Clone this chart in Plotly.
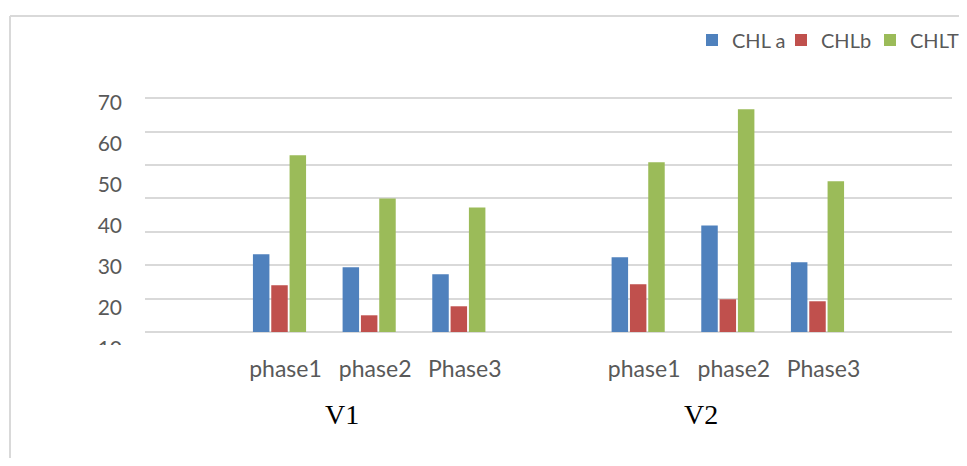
import plotly.graph_objects as go

groups = ["V1", "V2"]
phases = ["phase1", "phase2", "Phase3"]
series_names = ["CHL a", "CHLb", "CHLT"]
chl_a = [23.3, 19.4, 17.3, 22.4, 31.9, 20.9]
chl_b = [14.0, 5.0, 7.7, 14.3, 9.8, 9.2]
chl_t = [52.9, 40.0, 37.3, 50.8, 66.7, 45.1]
y_tick_labels = [10, 20, 30, 40, 50, 60, 70]

colors = ["#4F81BD", "#C0504D", "#9BBB59"]
OFF = 8  # page body margin
W, H = 967 - 2 * OFF, 466 - 2 * OFF
L, R, T, B = 145 - OFF, W - (952 - OFF), 91 - OFF, H - (350 - OFF)
pw, ph = W - L - R, H - T - B

xs = []
tick_text = []
for gi, g in enumerate(groups):
    for pi, p in enumerate(phases):
        xs.append(gi * (len(phases) + 1) + pi)
        tick_text.append(p)

fig = go.Figure()
for name, vals, c in zip(series_names, [chl_a, chl_b, chl_t], colors):
    fig.add_trace(go.Bar(x=xs, y=vals, name=name, marker_color=c, marker_line_width=0))
fig.add_trace(go.Scatter(x=[None], y=[None], yaxis="y2", showlegend=False, hoverinfo="skip"))

def py(page_y):
    return (H - B - (page_y - OFF)) / ph

def px(page_x):
    return (page_x - OFF - L) / pw

shapes = [
    dict(type="line", xref="paper", yref="paper", x0=px(10), x1=px(10), y0=py(16), y1=py(480),
         line=dict(color="#d9d9d9", width=2)),
    dict(type="line", xref="paper", yref="paper", x0=px(10), x1=px(980), y0=py(16), y1=py(16),
         line=dict(color="#d9d9d9", width=2)),
    dict(type="rect", xref="paper", yref="paper", x0=px(80), x1=px(140), y0=py(345), y1=py(362),
         fillcolor="white", line=dict(width=0), layer="above"),
]

annotations = [
    dict(text=g, x=gi * (len(phases) + 1) + (len(phases) - 1) / 2, y=py(414), xref="x", yref="paper",
         yanchor="middle", xanchor="center",
         showarrow=False, xshift=-27, font=dict(family="Liberation Serif", size=28, color="#000000"))
    for gi, g in enumerate(groups)
]

# y2 scale: label 70 centred near page y 103, 41 px per 10 units
y2_top = 70 + (103 - 91) / 4.1
y2_bot = 70 - (350 - 103) / 4.1

fig.update_layout(
    width=W, height=H,
    margin=dict(l=L, r=R, t=T, b=B, autoexpand=False),
    paper_bgcolor="white", plot_bgcolor="white",
    barmode="group", bargap=0.387, bargroupgap=0.1,
    showlegend=True,
    legend=dict(orientation="h", x=px(692), xanchor="left", y=py(40), yanchor="middle",
                font=dict(family="Lato", size=20, color="#595959"), bgcolor="rgba(0,0,0,0)",
                itemwidth=30, entrywidth=44, entrywidthmode="pixels"),
    xaxis=dict(range=[-1.5, 7.5], tickvals=xs, ticktext=tick_text, showgrid=False, zeroline=False,
               showline=False, ticks="", tickfont=dict(family="Lato", size=23, color="#595959"),
               ticklabelstandoff=3, ticklabelshift=6),
    yaxis=dict(range=[-18 / 3.34, 241 / 3.34], dtick=10, tick0=0, showgrid=True, gridcolor="#d9d9d9",
               gridwidth=1.5, zeroline=False, showline=False, showticklabels=False, ticks=""),
    yaxis2=dict(overlaying="y", side="left", range=[y2_bot, y2_top], tickvals=y_tick_labels,
                showgrid=False, zeroline=False, showline=False, ticks="",
                tickfont=dict(family="Lato", size=21, color="#595959"), ticklabelstandoff=22),
    shapes=shapes,
    annotations=annotations,
)

fig.write_html("out.html")
